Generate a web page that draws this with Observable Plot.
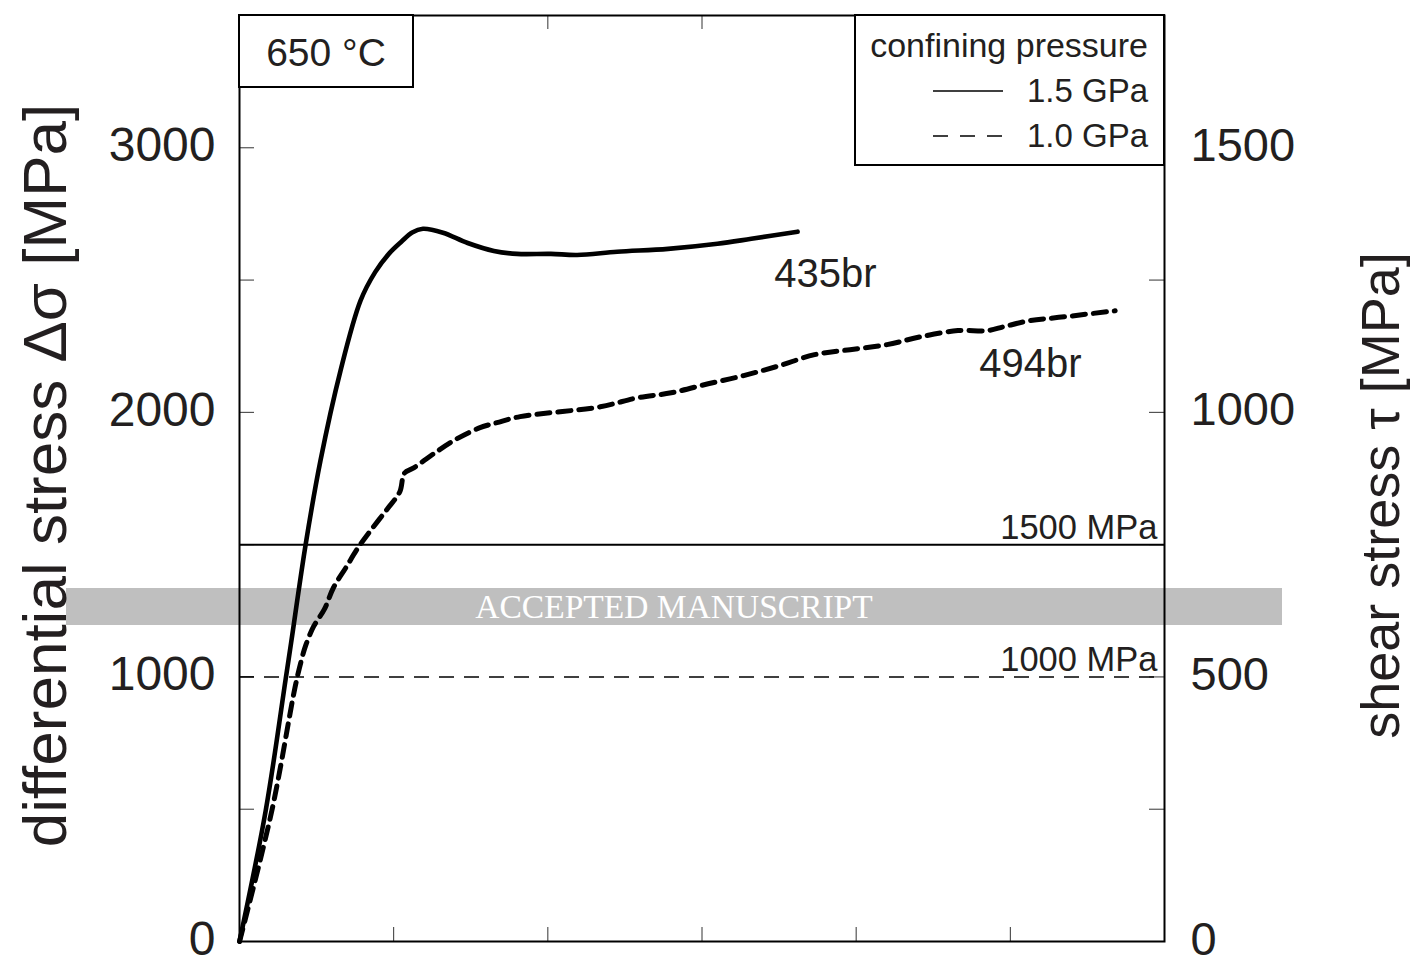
<!DOCTYPE html>
<html>
<head>
<meta charset="utf-8">
<script src="https://cdn.jsdelivr.net/npm/d3@7"></script>
<script src="https://cdn.jsdelivr.net/npm/@observablehq/plot@0.6"></script>
<style>
  html, body { margin: 0; padding: 0; background: white; }
  #wrap { position: relative; width: 1414px; height: 955px; overflow: hidden; font-family: "Liberation Sans", Arial, sans-serif; }
  #band { position: absolute; left: 66px; top: 588px; width: 1216px; height: 37px; background: #bfbfbf;
          color: white; font-family: "Liberation Serif", "Times New Roman", serif; font-size: 33.5px;
          line-height: 37px; text-align: center; z-index: 0; }
  #chart { position: absolute; left: 0; top: 0; z-index: 1; }
  #overlay { position: absolute; left: 0; top: 0; z-index: 2; pointer-events: none; }
</style>
</head>
<body>
<div id="wrap">
  <div id="band">ACCEPTED MANUSCRIPT</div>
  <div id="chart"></div>
  <svg id="overlay" width="1414" height="955"></svg>
</div>
<script>
// ---------------- data ----------------
const xTicks = [1, 2, 3, 4, 5];
const yMinorTicks = [500, 1000, 1500, 2000, 2500, 3000];
const yLabelTicks = [0, 1000, 2000, 3000];

// sample 435br, confining pressure 1.5 GPa (solid)
const strain435 = [0, 0.17, 0.30, 0.335, 0.43, 0.525, 0.655, 0.785, 0.88, 0.97, 1.05, 1.12, 1.19, 1.32, 1.48, 1.65, 1.80, 2.02, 2.19, 2.45, 2.78, 3.10, 3.32, 3.62];
const stress435 = [0, 495, 994, 1130, 1504, 1817, 2157, 2422, 2530, 2600, 2645, 2680, 2694, 2679, 2640, 2610, 2599, 2599, 2595, 2607, 2618, 2637, 2656, 2683];

// sample 494br, confining pressure 1.0 GPa (dashed)
const strain494 = [0, 0.21, 0.36, 0.40, 0.43, 0.48, 0.55, 0.61, 0.69, 0.77, 0.85, 0.96, 1.04, 1.07, 1.13, 1.26, 1.41, 1.56, 1.67, 1.82, 2.34, 2.58, 2.80, 3.04, 3.27, 3.50, 3.73, 3.96, 4.20, 4.42, 4.66, 4.85, 4.96, 5.12, 5.35, 5.68];
const stress494 = [0, 495, 960, 1060, 1120, 1190, 1255, 1338, 1413, 1489, 1553, 1636, 1700, 1770, 1790, 1844, 1900, 1942, 1961, 1984, 2021, 2055, 2074, 2108, 2139, 2176, 2218, 2237, 2256, 2286, 2309, 2309, 2324, 2346, 2361, 2384];

// reference stress levels
const refLevels = [1500, 1000];
const refLabels = ["1500 MPa", "1000 MPa"];

// curve labels
const sampleNames = ["435br", "494br"];
const sampleLabelX = [3.80, 5.13];
const sampleLabelY = [2475, 2135];

// ---------------- build ----------------
const s435 = strain435.map((x, i) => ({x, y: stress435[i]}));
const s494 = strain494.map((x, i) => ({x, y: stress494[i]}));
const refs = refLevels.map((y, i) => ({y, label: refLabels[i]}));
const names = sampleNames.map((t, i) => ({t, x: sampleLabelX[i], y: sampleLabelY[i]}));

const FONT = "Liberation Sans, Arial, sans-serif";
const INK = "#231f20";
const W = 1414, H = 955, ML = 239, MR = 250, MT = 15, MB = 14;
const FW = W - ML - MR, FH = H - MT - MB;

const chart = Plot.plot({
  width: W, height: H,
  marginLeft: ML, marginRight: MR, marginTop: MT, marginBottom: MB,
  style: {background: "transparent", fontFamily: FONT, color: INK, overflow: "visible"},
  x: {domain: [0, 6], axis: null},
  y: {domain: [0, 3500], axis: null},
  marks: [
    // inward ticks
    Plot.tickX(xTicks, {x: d => d, stroke: "#333", strokeWidth: 1, insetTop: FH - 14}),
    Plot.tickX(xTicks, {x: d => d, stroke: "#333", strokeWidth: 1, insetBottom: FH - 14}),
    Plot.tickY(yMinorTicks, {y: d => d, stroke: "#333", strokeWidth: 1, insetRight: FW - 15}),
    Plot.tickY(yMinorTicks, {y: d => d, stroke: "#333", strokeWidth: 1, insetLeft: FW - 15}),
    // reference lines
    Plot.ruleY(refs.slice(0, 1), {y: "y", stroke: "black", strokeWidth: 2}),
    Plot.ruleY(refs.slice(1), {y: "y", stroke: "black", strokeWidth: 1.6, strokeDasharray: "15,10"}),
    Plot.text(refs, {y: "y", text: "label", frameAnchor: "right", textAnchor: "end", lineAnchor: "bottom",
      dx: -7, dy: -6, fontSize: 34.5, fill: INK, fontFamily: FONT}),
    // curves
    Plot.line(s494, {x: "x", y: "y", curve: "catmull-rom", stroke: "black", strokeWidth: 5, strokeDasharray: "13,8"}),
    Plot.line(s435, {x: "x", y: "y", curve: "catmull-rom", stroke: "black", strokeWidth: 4.6}),
    Plot.text(names, {x: "x", y: "y", text: "t", lineAnchor: "bottom", fontSize: 40, fill: INK, fontFamily: FONT}),
    // frame
    Plot.frame({stroke: "black", strokeWidth: 2}),
    // tick labels
    Plot.axisY(yLabelTicks, {anchor: "left", tickSize: 0, tickPadding: 24, fontSize: 48, label: null, fill: INK,
      tickFormat: d => String(d), dy: -2}),
    Plot.axisY(yLabelTicks, {anchor: "right", tickSize: 0, tickPadding: 26, fontSize: 47, label: null, fill: INK,
      tickFormat: d => String(d / 2), dy: -2}),
    // axis titles
    Plot.text(["differential stress Δσ [MPa]"], {text: d => d, frameAnchor: "left", textAnchor: "middle", rotate: -90,
      dx: -193, dy: -3, fontSize: 62, fill: INK, fontFamily: FONT}),
    Plot.text(["shear stress τ [MPa]"], {text: d => d, frameAnchor: "right", textAnchor: "middle", rotate: -90,
      dx: 217, dy: 17, fontSize: 54, fill: INK, fontFamily: FONT})
  ]
});
document.getElementById("chart").appendChild(chart);

// ---------------- annotation boxes (temperature + legend) ----------------
const ov = d3.select("#overlay");
ov.append("rect").attr("x", ML).attr("y", MT).attr("width", 174).attr("height", 72)
  .attr("fill", "white").attr("stroke", "black").attr("stroke-width", 2);
ov.append("text").attr("x", 326).attr("y", 66).attr("text-anchor", "middle")
  .attr("font-family", FONT).attr("font-size", 39).attr("fill", INK).text("650 °C");

ov.append("rect").attr("x", 855).attr("y", MT).attr("width", W - MR - 855).attr("height", 150)
  .attr("fill", "white").attr("stroke", "black").attr("stroke-width", 2);
const legendTitle = "confining pressure";
const legendItems = [{label: "1.5 GPa", dash: null}, {label: "1.0 GPa", dash: "15,12"}];
ov.append("text").attr("x", 1148).attr("y", 57).attr("text-anchor", "end")
  .attr("font-family", FONT).attr("font-size", 34).attr("fill", INK).text(legendTitle);
legendItems.forEach((it, i) => {
  const base = 102 + i * 45;
  ov.append("line").attr("x1", 933).attr("x2", 1003).attr("y1", base - 11).attr("y2", base - 11)
    .attr("stroke", "black").attr("stroke-width", 1.6).attr("stroke-dasharray", it.dash);
  ov.append("text").attr("x", 1148).attr("y", base).attr("text-anchor", "end")
    .attr("font-family", FONT).attr("font-size", 33).attr("fill", INK).text(it.label);
});
</script>
</body>
</html>
